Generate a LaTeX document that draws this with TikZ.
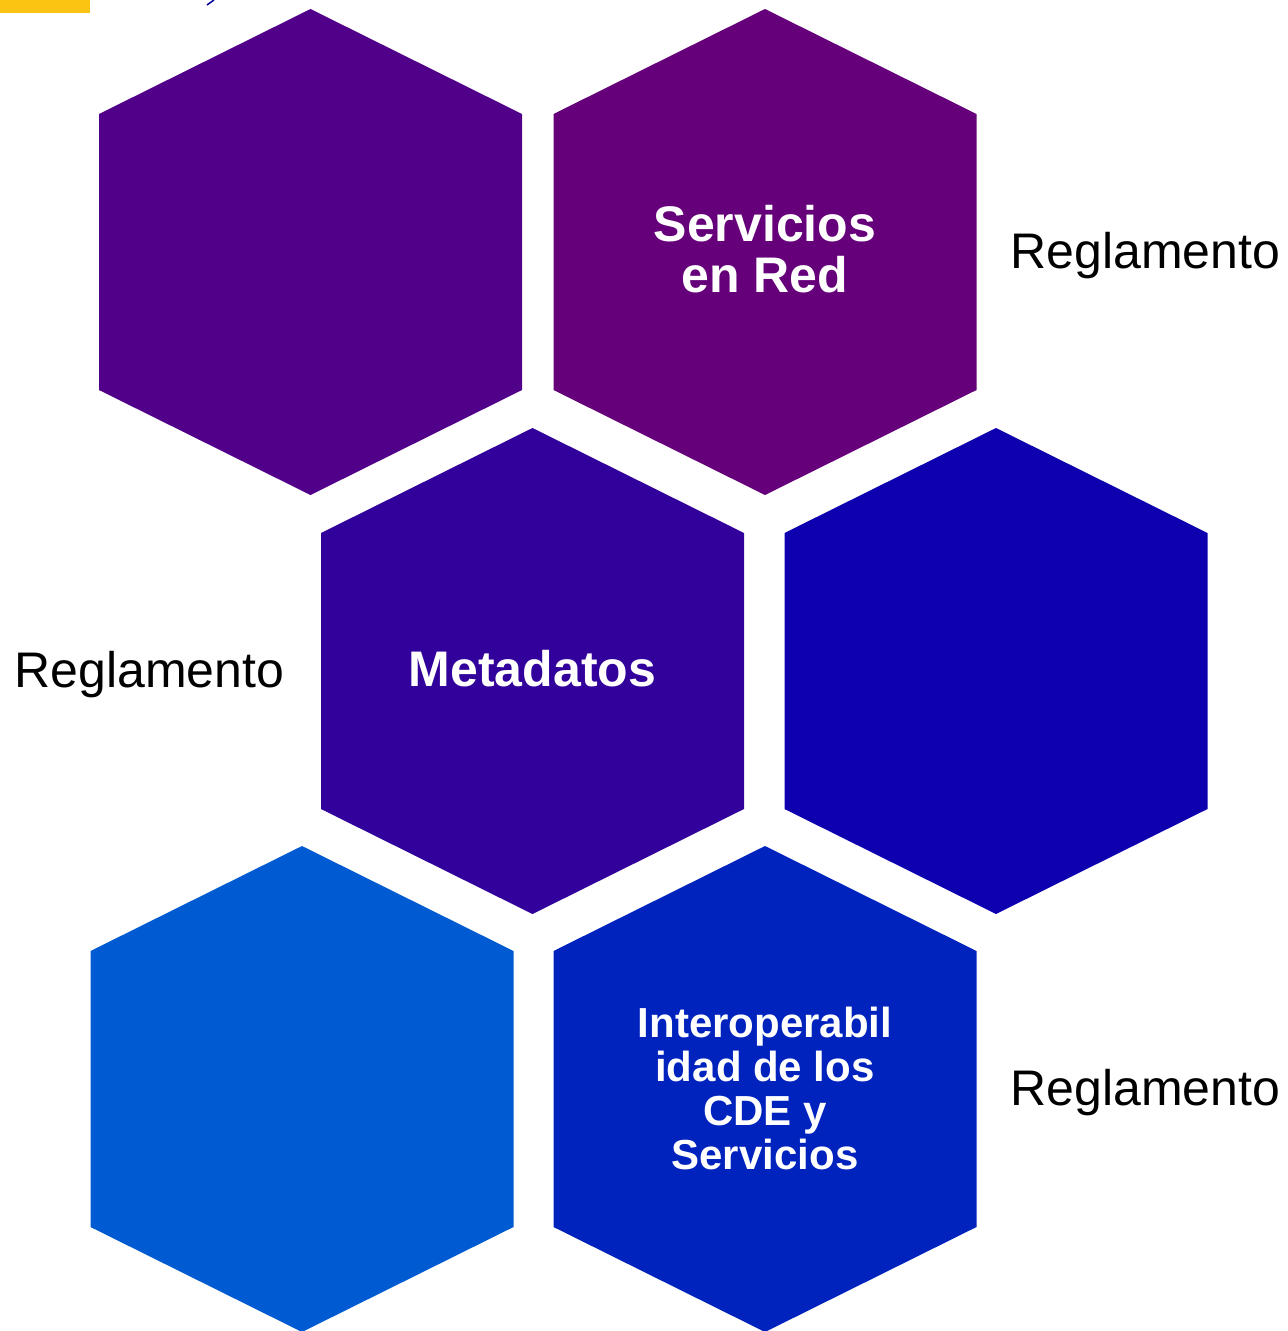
\documentclass[tikz,border=0pt]{standalone}
\usepackage{fontspec}
\setmainfont{Liberation Sans}
\usepackage{tikz}
\usetikzlibrary{positioning}

\definecolor{hexA}{RGB}{81,0,138}
\definecolor{hexB}{RGB}{101,0,122}
\definecolor{hexC}{RGB}{50,0,155}
\definecolor{hexD}{RGB}{14,0,175}
\definecolor{hexE}{RGB}{0,90,210}
\definecolor{hexF}{RGB}{0,35,190}
\definecolor{barYellow}{RGB}{251,195,18}

\tikzset{
  hexcell/.pic={
    \fill (0,-243) -- (211.5,-138) -- (211.5,138) -- (0,243)
      -- (-211.5,138) -- (-211.5,-138) -- cycle;
  },
  celltext/.style={text=white, align=center, font=\fontsize{50}{51}\selectfont\bfseries},
  smalltext/.style={text=white, align=center, font=\fontsize{42}{44}\selectfont\bfseries},
  sidetext/.style={text=black, font=\fontsize{50}{56}\selectfont}
}

\begin{document}
\begin{tikzpicture}[x=1pt,y=-1pt]

	\useasboundingbox (0,0) rectangle (1288,1331);

	% fragment at the top edge
	\fill[barYellow] (0,0) rectangle (90,13);
	\coordinate (m1) at (207,5);
	\coordinate (m2) at (214,0);
	\draw[blue!60!black, line width=1.5pt] (m1) -- (m2);

	% hexagons
	\pic[fill=hexA] at (310.5,252) {hexcell};
	\pic[fill=hexB] at (765,252) {hexcell};
	\pic[fill=hexC] at (532.5,671) {hexcell};
	\pic[fill=hexD] at (996,671) {hexcell};
	\pic[fill=hexE] at (302,1089) {hexcell};
	\pic[fill=hexF] at (765,1089) {hexcell};

	% labels
	\node[celltext] (servicios) at (765,249) {Servicios\\en Red};
	\node[celltext] (metadatos) at (532.5,669) {Metadatos};
	\node[smalltext] (interop) at (765,1088) {Interoperabil\\idad de los\\CDE y\\Servicios};

	\node[sidetext, anchor=west] (regA) at (1007,256) {Reglamento};
	\node[sidetext, anchor=west] (regB) at (11,675) {Reglamento};
	\node[sidetext, anchor=west] (regC) at (1007,1093) {Reglamento};

\end{tikzpicture}
\end{document}
